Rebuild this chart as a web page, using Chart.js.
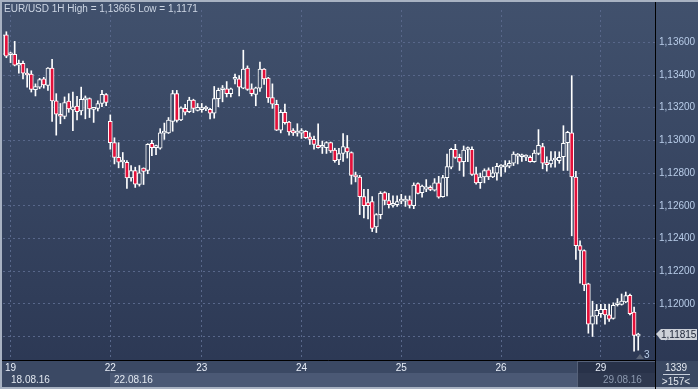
<!DOCTYPE html>
<html>
<head>
<meta charset="utf-8">
<script src="https://cdn.jsdelivr.net/npm/chart.js@4"></script>
<style>
  html, body { margin: 0; padding: 0; background: #2f3b57; }
  #wrap { width: 698px; height: 389px; position: relative; }
</style>
</head>
<body>
<div id="wrap"><canvas id="chart"></canvas></div>
<script>
// EUR/USD hourly candles, 18.08.16 - 29.08.16
const opens = [
  1.13526, 1.13646, 1.13524, 1.13526, 1.13460, 1.13472, 1.13412, 1.13406, 1.13310, 1.13326,
  1.13376, 1.13336, 1.13442, 1.13242, 1.13160, 1.13146, 1.13240, 1.13186, 1.13210, 1.13180,
  1.13248, 1.13256, 1.13190, 1.13196, 1.13226, 1.13280, 1.13116, 1.12986, 1.12896, 1.12868,
  1.12866, 1.12770, 1.12816, 1.12730, 1.12830, 1.12816, 1.12982, 1.12956, 1.12952, 1.13044,
  1.13046, 1.13116, 1.13286, 1.13126, 1.13196, 1.13176, 1.13246, 1.13184, 1.13188, 1.13192,
  1.13190, 1.13166, 1.13256, 1.13310, 1.13316, 1.13286, 1.13374, 1.13376, 1.13320, 1.13442,
  1.13316, 1.13282, 1.13320, 1.13436, 1.13382, 1.13262, 1.13220, 1.13062, 1.13172, 1.13112,
  1.13060, 1.13044, 1.13044, 1.13056, 1.13022, 1.13006, 1.12972, 1.12958, 1.12956, 1.12986,
  1.12940, 1.12880, 1.12920, 1.12956, 1.12926, 1.12790, 1.12776, 1.12656, 1.12620, 1.12626,
  1.12470, 1.12546, 1.12680, 1.12632, 1.12602, 1.12606, 1.12628, 1.12628, 1.12636, 1.12600,
  1.12736, 1.12680, 1.12702, 1.12712, 1.12696, 1.12740, 1.12656, 1.12772, 1.12836, 1.12946,
  1.12896, 1.12870, 1.12944, 1.12946, 1.12796, 1.12742, 1.12776, 1.12820, 1.12776, 1.12800,
  1.12836, 1.12838, 1.12842, 1.12860, 1.12904, 1.12900, 1.12898, 1.12896, 1.12870, 1.12920,
  1.12962, 1.12862, 1.12856, 1.12880, 1.12876, 1.12900, 1.12986, 1.13046, 1.12776, 1.12356,
  1.12326, 1.12122, 1.11876, 1.11926, 1.11940, 1.11966, 1.11932, 1.11910, 1.11994, 1.11996,
  1.12012, 1.12052, 1.11950, 1.11802
];
const highs = [
  1.13652, 1.13665, 1.13540, 1.13606, 1.13492, 1.13486, 1.13440, 1.13426, 1.13346, 1.13380,
  1.13386, 1.13446, 1.13496, 1.13286, 1.13226, 1.13266, 1.13286, 1.13296, 1.13270, 1.13326,
  1.13272, 1.13260, 1.13200, 1.13242, 1.13306, 1.13286, 1.13156, 1.13016, 1.12986, 1.12926,
  1.12876, 1.12846, 1.12836, 1.12846, 1.12832, 1.12980, 1.13000, 1.12972, 1.13072, 1.13106,
  1.13140, 1.13306, 1.13306, 1.13206, 1.13220, 1.13264, 1.13252, 1.13226, 1.13226, 1.13210,
  1.13196, 1.13330, 1.13320, 1.13336, 1.13360, 1.13320, 1.13406, 1.13396, 1.13552, 1.13456,
  1.13346, 1.13326, 1.13480, 1.13440, 1.13386, 1.13346, 1.13246, 1.13186, 1.13222, 1.13116,
  1.13072, 1.13102, 1.13072, 1.13060, 1.13046, 1.13026, 1.13102, 1.12996, 1.12992, 1.12990,
  1.12952, 1.12952, 1.13042, 1.13030, 1.12930, 1.12806, 1.12786, 1.12700, 1.12700, 1.12656,
  1.12552, 1.12686, 1.12686, 1.12676, 1.12660, 1.12660, 1.12670, 1.12660, 1.12660, 1.12740,
  1.12740, 1.12726, 1.12760, 1.12722, 1.12766, 1.12780, 1.12786, 1.12916, 1.12952, 1.12976,
  1.12916, 1.12966, 1.12960, 1.12960, 1.12836, 1.12800, 1.12826, 1.12832, 1.12836, 1.12860,
  1.12852, 1.12876, 1.12876, 1.12930, 1.12920, 1.12916, 1.12912, 1.12906, 1.12940, 1.13066,
  1.12982, 1.12900, 1.12932, 1.12932, 1.12930, 1.13090, 1.13056, 1.13396, 1.12810, 1.12386,
  1.12330, 1.12126, 1.12016, 1.11996, 1.11996, 1.11996, 1.11996, 1.12006, 1.12032, 1.12060,
  1.12072, 1.12060, 1.11980, 1.11820
];
const lows = [
  1.13520, 1.13506, 1.13476, 1.13456, 1.13412, 1.13376, 1.13326, 1.13296, 1.13272, 1.13316,
  1.13320, 1.13306, 1.13116, 1.13032, 1.13102, 1.13132, 1.13172, 1.13060, 1.13126, 1.13156,
  1.13132, 1.13140, 1.13110, 1.13180, 1.13206, 1.13212, 1.12946, 1.12856, 1.12832, 1.12832,
  1.12706, 1.12750, 1.12712, 1.12720, 1.12730, 1.12796, 1.12906, 1.12912, 1.12946, 1.13006,
  1.13042, 1.13056, 1.13112, 1.13120, 1.13156, 1.13170, 1.13170, 1.13180, 1.13172, 1.13182,
  1.13132, 1.13136, 1.13206, 1.13236, 1.13266, 1.13266, 1.13346, 1.13272, 1.13316, 1.13306,
  1.13272, 1.13212, 1.13300, 1.13342, 1.13232, 1.13196, 1.13060, 1.13046, 1.13100, 1.13032,
  1.13030, 1.13026, 1.13012, 1.13012, 1.12976, 1.12946, 1.12952, 1.12920, 1.12920, 1.12926,
  1.12866, 1.12852, 1.12872, 1.12892, 1.12732, 1.12746, 1.12546, 1.12526, 1.12520, 1.12442,
  1.12436, 1.12520, 1.12606, 1.12586, 1.12592, 1.12596, 1.12612, 1.12596, 1.12586, 1.12582,
  1.12672, 1.12652, 1.12686, 1.12692, 1.12690, 1.12646, 1.12652, 1.12660, 1.12826, 1.12890,
  1.12816, 1.12780, 1.12870, 1.12786, 1.12732, 1.12706, 1.12740, 1.12760, 1.12772, 1.12756,
  1.12780, 1.12806, 1.12832, 1.12846, 1.12856, 1.12872, 1.12876, 1.12866, 1.12866, 1.12912,
  1.12826, 1.12812, 1.12836, 1.12836, 1.12860, 1.12816, 1.12816, 1.12416, 1.12272, 1.12126,
  1.12080, 1.11820, 1.11800, 1.11876, 1.11916, 1.11876, 1.11892, 1.11906, 1.11986, 1.11992,
  1.12006, 1.11932, 1.11710, 1.11716
];
const closes = [
  1.13646, 1.13516, 1.13528, 1.13460, 1.13472, 1.13412, 1.13400, 1.13312, 1.13330, 1.13372,
  1.13340, 1.13442, 1.13242, 1.13160, 1.13148, 1.13232, 1.13192, 1.13206, 1.13176, 1.13252,
  1.13258, 1.13192, 1.13196, 1.13226, 1.13282, 1.13232, 1.12986, 1.12896, 1.12866, 1.12874,
  1.12770, 1.12816, 1.12732, 1.12802, 1.12810, 1.12976, 1.12956, 1.12960, 1.13046, 1.13048,
  1.13124, 1.13286, 1.13122, 1.13200, 1.13172, 1.13246, 1.13196, 1.13202, 1.13192, 1.13196,
  1.13166, 1.13256, 1.13306, 1.13318, 1.13286, 1.13316, 1.13378, 1.13326, 1.13436, 1.13312,
  1.13286, 1.13322, 1.13436, 1.13376, 1.13260, 1.13222, 1.13062, 1.13172, 1.13108, 1.13052,
  1.13046, 1.13048, 1.13060, 1.13016, 1.13006, 1.12976, 1.12956, 1.12962, 1.12986, 1.12936,
  1.12876, 1.12920, 1.12962, 1.12930, 1.12786, 1.12776, 1.12656, 1.12600, 1.12600, 1.12462,
  1.12546, 1.12676, 1.12632, 1.12606, 1.12606, 1.12626, 1.12632, 1.12632, 1.12602, 1.12726,
  1.12676, 1.12720, 1.12716, 1.12700, 1.12740, 1.12652, 1.12772, 1.12840, 1.12946, 1.12896,
  1.12866, 1.12940, 1.12948, 1.12792, 1.12740, 1.12776, 1.12816, 1.12776, 1.12802, 1.12842,
  1.12842, 1.12842, 1.12860, 1.12916, 1.12910, 1.12904, 1.12902, 1.12870, 1.12922, 1.12970,
  1.12860, 1.12852, 1.12880, 1.12888, 1.12896, 1.12982, 1.13050, 1.12776, 1.12356, 1.12326,
  1.12116, 1.11876, 1.11926, 1.11960, 1.11966, 1.11932, 1.11906, 1.11990, 1.11998, 1.12016,
  1.12050, 1.11940, 1.11806, 1.11815
];

// day separators (candle index where each day starts)
const dayTickIdx = [2, 26, 48, 72, 96, 120, 144];
const dayTickLabels = ["19", "22", "23", "24", "25", "26", "29"];
const priceTicks = [1.118, 1.120, 1.122, 1.124, 1.126, 1.128, 1.130, 1.132, 1.134, 1.136];

const FONT = "'Liberation Sans', Arial, sans-serif";
const RED = "#e3103a";

let bgGrad = null;
function getBg(chart) {
    if (!bgGrad) {
        bgGrad = chart.ctx.createLinearGradient(0, 0, 0, 389);
        bgGrad.addColorStop(0, "#41516d");
        bgGrad.addColorStop(1, "#2b3753");
    }
    return bgGrad;
}

const fmt = v => v.toFixed(5).replace(".", ",");

const wickData = opens.map((o, i) => ({ x: i, y: [lows[i], highs[i]] }));
const bodyData = opens.map((o, i) => ({ x: i, y: [Math.min(o, closes[i]), Math.max(o, closes[i])] }));

const decor = {
    id: "decor",
    beforeDraw(chart) {
        const ctx = chart.ctx;
        ctx.save();
        ctx.fillStyle = getBg(chart);
        ctx.fillRect(0, 0, 698, 361);
        // time axis bands
        ctx.fillStyle = "#3b4964";
        ctx.fillRect(0, 361, 656, 26);
        ctx.fillStyle = "#4b5975";
        ctx.fillRect(110, 373, 546, 14);
        // right bottom panel
        ctx.fillStyle = "#3a4862";
        ctx.fillRect(656, 361, 42, 28);
        // dark box over the last day
        ctx.fillStyle = "rgba(30,38,58,0.65)";
        ctx.fillRect(577, 361, 78, 28);
        ctx.strokeStyle = "#56627a";
        ctx.lineWidth = 1;
        ctx.strokeRect(577.5, 361.5, 78, 27);
        // frame
        ctx.fillStyle = "#a8b2c2";
        ctx.fillRect(0, 387, 698, 2);
        ctx.fillRect(0, 0, 698, 2);
        ctx.fillRect(0, 0, 2, 389);
        ctx.restore();
    },
    afterDraw(chart) {
        const ctx = chart.ctx;
        const y = chart.scales.y;
        ctx.save();
        // axis lines
        ctx.strokeStyle = "#000";
        ctx.lineWidth = 1;
        ctx.beginPath();
        ctx.moveTo(655.5, 2); ctx.lineTo(655.5, 389);
        ctx.moveTo(2, 360.5); ctx.lineTo(655, 360.5);
        ctx.stroke();

        // title
        ctx.font = "10px " + FONT;
        ctx.textBaseline = "middle";
        ctx.textAlign = "left";
        ctx.fillStyle = "#cdd6e4";
        ctx.fillText("EUR/USD 1H High = 1,13665 Low = 1,1171", 4, 9);

        // date row
        ctx.fillStyle = "#e2e8f0";
        ctx.fillText("18.08.16", 11, 380);
        ctx.fillText("22.08.16", 114, 380);
        ctx.fillStyle = "#8d9ab0";
        ctx.fillText("29.08.16", 603, 380);

        // right bottom counters
        ctx.textAlign = "center";
        ctx.fillStyle = "#e4e9f0";
        ctx.fillText("1339", 676, 368);
        ctx.fillText(">157<", 676, 382);
        ctx.strokeStyle = "#c8d0dc";
        ctx.beginPath();
        ctx.moveTo(663, 374.5); ctx.lineTo(690, 374.5);
        ctx.stroke();

        // last price marker
        const last = closes[closes.length - 1];
        const py = Math.round(y.getPixelForValue(last));
        ctx.fillStyle = "#cdd1d8";
        ctx.beginPath();
        ctx.moveTo(656, py);
        ctx.lineTo(661, py - 5);
        ctx.lineTo(697, py - 5);
        ctx.lineTo(697, py + 6);
        ctx.lineTo(661, py + 6);
        ctx.closePath();
        ctx.fill();
        ctx.fillStyle = "#1c2436";
        ctx.textAlign = "left";
        ctx.fillText(fmt(last), 661, py + 1);

        // bars-to-end counter
        ctx.fillStyle = "#5a6478";
        ctx.beginPath();
        ctx.moveTo(636, 359); ctx.lineTo(640, 354); ctx.lineTo(644, 359);
        ctx.closePath();
        ctx.fill();
        ctx.fillStyle = "#b8cce8";
        ctx.fillText("3", 644, 355);
        ctx.restore();
    }
};

new Chart(document.getElementById("chart"), {
    type: "bar",
    data: {
        datasets: [
            {
                label: "wick",
                data: wickData,
                backgroundColor: "#ffffff",
                barThickness: 1,
                grouped: false,
                order: 2
            },
            {
                label: "body",
                data: bodyData,
                backgroundColor: c => opens[c.dataIndex] > closes[c.dataIndex] ? RED : getBg(c.chart),
                borderColor: "#ffffff",
                borderWidth: 1,
                borderSkipped: false,
                barThickness: 4,
                minBarLength: 2,
                grouped: false,
                order: 1
            }
        ]
    },
    options: {
        responsive: true,
        maintainAspectRatio: false,
        animation: false,
        events: [],
        layout: { padding: { left: 3, top: 3, right: 0, bottom: 0 } },
        plugins: { legend: { display: false }, tooltip: { enabled: false } },
        scales: {
            x: {
                type: "linear",
                min: 0.19,
                max: 157.03,
                offset: false,
                grid: { color: "#58678a", drawTicks: false, offset: false },
                border: { display: false, dash: [2, 3] },
                afterBuildTicks: axis => { axis.ticks = dayTickIdx.map(v => ({ value: v })); },
                afterFit: axis => { axis.height = 29; },
                ticks: {
                    autoSkip: false,
                    maxRotation: 0,
                    padding: 2,
                    color: "#e8eef8",
                    font: { family: FONT, size: 10 },
                    callback: (v, i) => dayTickLabels[i]
                }
            },
            y: {
                position: "right",
                min: 1.11656,
                max: 1.13798,
                grid: { color: "#58678a", drawTicks: false },
                border: { display: false, dash: [2, 3] },
                afterBuildTicks: axis => { axis.ticks = priceTicks.map(v => ({ value: v })); },
                afterFit: axis => { axis.width = 43; },
                ticks: {
                    padding: 4,
                    color: "#b8cce8",
                    font: { family: FONT, size: 10 },
                    callback: v => fmt(v)
                }
            }
        }
    },
    plugins: [decor]
});
</script>
</body>
</html>
